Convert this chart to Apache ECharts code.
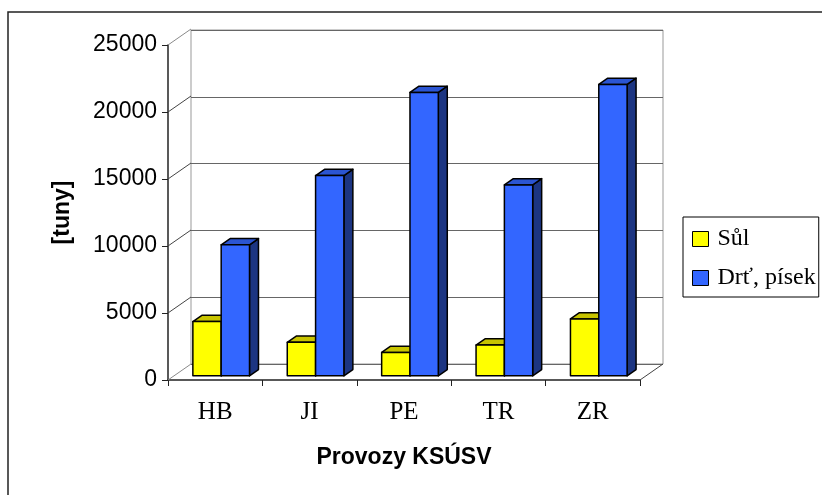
<!DOCTYPE html>
<html>
<head>
<meta charset="utf-8">
<script src="https://cdn.jsdelivr.net/npm/echarts/dist/echarts.min.js"></script>
<style>
  html, body { margin: 0; padding: 0; background: #fff; }
  #chart { width: 822px; height: 495px; }
</style>
</head>
<body>
<div id="chart"></div>
<script>
// Provozy KSÚSV – spotřeba posypového materiálu [tuny]
const categories = ['HB', 'JI', 'PE', 'TR', 'ZR'];
const sulValues = [4050, 2500, 1750, 2300, 4250];
const drtValues = [9780, 14950, 21150, 14250, 21750];
const seriesNames = ['Sůl', 'Drť, písek'];
const valueTicks = [0, 5000, 10000, 15000, 20000, 25000];

// 3D box look
const DEPTH = [23, -16];   // offset from the front plane to the back wall
const BAR_FRONT = 0.26;    // depth of a bar's front face (fraction of DEPTH)
const BAR_DEPTH = 0.39;    // bar thickness (fraction of DEPTH)
const BAR_WIDTH = 0.3;     // bar width (fraction of category width)

const palette = [
  { front: '#FFFF00', top: '#C8C400', side: '#9A9600' },
  { front: '#3366FF', top: '#2B55D2', side: '#1C3582' }
];

function barRenderer(slot, colors) {
  return function (params, api) {
    const idx = api.value(0);
    const val = api.value(1);
    const top = api.coord([idx, val]);
    const base = api.coord([idx, 0]);
    const bw = api.size([1, 0])[0] * BAR_WIDTH;
    const fx = DEPTH[0] * BAR_FRONT, fy = DEPTH[1] * BAR_FRONT;
    const dx = DEPTH[0] * BAR_DEPTH, dy = DEPTH[1] * BAR_DEPTH;
    const x0 = top[0] + (slot === 0 ? -bw : 0) + fx;
    const x1 = x0 + bw;
    const y0 = top[1] + fy;
    const y1 = base[1] + fy;
    const edge = { stroke: '#000', lineWidth: 1.5, lineJoin: 'round' };
    return {
      type: 'group',
      children: [
        { type: 'polygon',
          shape: { points: [[x1, y0], [x1 + dx, y0 + dy], [x1 + dx, y1 + dy], [x1, y1]] },
          style: Object.assign({ fill: colors.side }, edge) },
        { type: 'polygon',
          shape: { points: [[x0, y0], [x0 + dx, y0 + dy], [x1 + dx, y0 + dy], [x1, y0]] },
          style: Object.assign({ fill: colors.top }, edge) },
        { type: 'rect',
          shape: { x: x0, y: y0, width: bw, height: y1 - y0 },
          style: Object.assign({ fill: colors.front }, edge) }
      ]
    };
  };
}

// side wall / floor diagonals joining the front axes to the back wall
function wallRenderer(params, api) {
  const idx = api.value(0);
  const val = api.value(1);
  const side = api.value(2);
  const p = api.coord([idx, val]);
  const x = p[0] + side * api.size([1, 0])[0] / 2;
  const light = (val === 0 && side < 0) || val === valueTicks[valueTicks.length - 1];
  return {
    type: 'line',
    shape: { x1: x, y1: p[1], x2: x + DEPTH[0], y2: p[1] + DEPTH[1] },
    style: { stroke: light ? '#8a8a8a' : '#444', lineWidth: 1 }
  };
}

const wallData = valueTicks.map(v => [0, v, -1]);
wallData.push([categories.length - 1, 0, 1]);

const chart = echarts.init(document.getElementById('chart'), null, { renderer: 'canvas' });

chart.setOption({
  animation: false,
  backgroundColor: '#fff',
  graphic: [
    { type: 'rect', shape: { x: 8, y: 12, width: 900, height: 600 },
      style: { fill: 'none', stroke: '#222', lineWidth: 1.5 }, z: -10 }
  ],
  grid: [
    { left: 168, top: 45, width: 472, height: 335 },
    { left: 191, top: 30, width: 472, height: 334, show: true,
      borderColor: '#999', borderWidth: 1, backgroundColor: 'transparent' }
  ],
  xAxis: [
    { type: 'category', gridIndex: 0, data: categories, boundaryGap: true,
      name: 'Provozy KSÚSV', nameLocation: 'middle', nameGap: 66,
      nameTextStyle: { fontFamily: 'Liberation Sans', fontWeight: 'bold', fontSize: 23, color: '#000' },
      axisLine: { lineStyle: { color: '#222', width: 1.5 } },
      axisTick: { show: true, interval: 0, length: 6, lineStyle: { color: '#222' } },
      axisLabel: { fontFamily: 'Liberation Serif', fontSize: 25, color: '#000', margin: 20 },
      splitLine: { show: false } },
    { type: 'category', gridIndex: 1, data: categories, show: false }
  ],
  yAxis: [
    { type: 'value', gridIndex: 0, min: 0, max: 25000, interval: 5000,
      name: '[tuny]', nameLocation: 'middle', nameGap: 94, nameRotate: 90,
      nameTextStyle: { fontFamily: 'Liberation Sans', fontWeight: 'bold', fontSize: 23, color: '#000' },
      axisLine: { show: true, lineStyle: { color: '#222', width: 1.5 } },
      axisTick: { show: true, length: 6, lineStyle: { color: '#222' } },
      axisLabel: { fontFamily: 'Liberation Sans', fontSize: 23, color: '#000', margin: 11,
        formatter: v => String(v) },
      splitLine: { show: false } },
    { type: 'value', gridIndex: 1, min: 0, max: 25000, interval: 5000,
      axisLine: { show: false }, axisTick: { show: false }, axisLabel: { show: false },
      splitLine: { show: true, lineStyle: { color: '#666', width: 1 } } }
  ],
  legend: {
    orient: 'vertical', left: 683, top: 217,
    padding: [10, 3, 7, 9], itemGap: 15, itemWidth: 16, itemHeight: 15,
    borderColor: '#000', borderWidth: 1, backgroundColor: '#fff',
    icon: 'rect',
    itemStyle: { borderColor: '#000', borderWidth: 1 },
    textStyle: { fontFamily: 'Liberation Serif', fontSize: 24, lineHeight: 24, color: '#000',
      padding: [0, 0, 0, 4] },
    data: seriesNames
  },
  series: [
    { type: 'custom', name: 'wall', xAxisIndex: 0, yAxisIndex: 0, z: 1, silent: true,
      renderItem: wallRenderer, data: wallData },
    { type: 'custom', name: seriesNames[0], xAxisIndex: 0, yAxisIndex: 0, z: 3,
      itemStyle: { color: palette[0].front },
      renderItem: barRenderer(0, palette[0]),
      encode: { x: 0, y: 1 },
      data: categories.map((c, i) => [i, sulValues[i]]) },
    { type: 'custom', name: seriesNames[1], xAxisIndex: 0, yAxisIndex: 0, z: 3,
      itemStyle: { color: palette[1].front },
      renderItem: barRenderer(1, palette[1]),
      encode: { x: 0, y: 1 },
      data: categories.map((c, i) => [i, drtValues[i]]) }
  ]
});
</script>
</body>
</html>
